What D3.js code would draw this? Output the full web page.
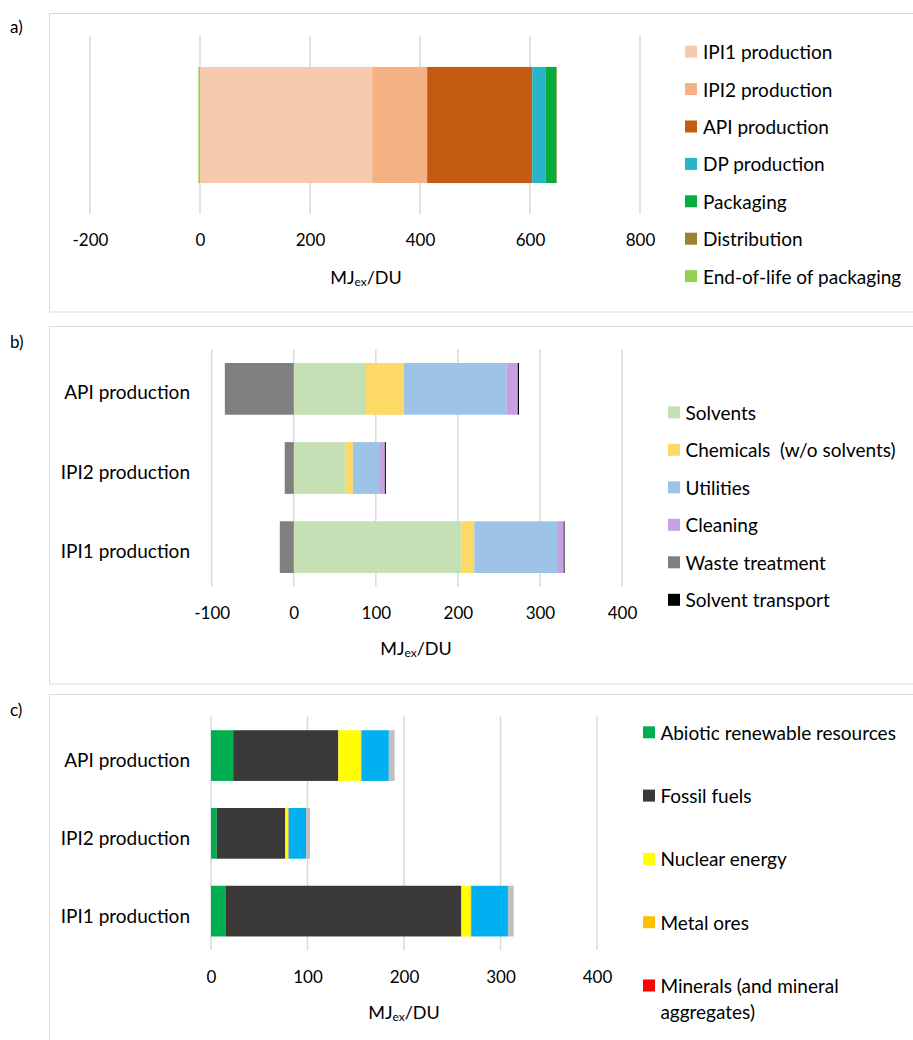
<!DOCTYPE html>
<html>
<head>
<meta charset="utf-8">
<script src="https://cdn.jsdelivr.net/npm/d3@7"></script>
<style>
  html, body { margin: 0; padding: 0; background: #fff; }
  svg text { font-family: Lato, "Open Sans", sans-serif; fill: #000; }
</style>
</head>
<body>
<svg id="chart" width="913" height="1040"></svg>
<script>
// ---- Panel a: life-cycle stages of the drug product ----
const stagesA = ["IPI1 production", "IPI2 production", "API production", "DP production",
                 "Packaging", "Distribution", "End-of-life of packaging"];
const valuesA = [313, 100, 191, 24, 20, 1, -3];
const colorsA = ["#F6CBAD", "#F4B183", "#C55A11", "#27B5C8", "#05AE3B", "#9C8130", "#92D050"];
const ticksA = [-200, 0, 200, 400, 600, 800];

// ---- Panel b: process contributions per production step ----
const stepsB = ["API production", "IPI2 production", "IPI1 production"];
const groupsB = ["Solvents", "Chemicals  (w/o solvents)", "Utilities", "Cleaning",
                 "Waste treatment", "Solvent transport"];
const solventsB  = [88, 63, 204];
const chemicalsB = [46, 9, 16];
const utilitiesB = [125, 32, 102];
const cleaningB  = [14, 7, 7];
const wasteB     = [-84, -11, -17];
const transportB = [1.5, 1.2, 1];
const colorsB = ["#C5E0B4", "#FFD966", "#9DC3E6", "#C5A0E3", "#7F7F7F", "#000000"];
const ticksB = [-100, 0, 100, 200, 300, 400];

// ---- Panel c: resource categories per production step ----
const stepsC = ["API production", "IPI2 production", "IPI1 production"];
const resourcesC = ["Abiotic renewable resources", "Fossil fuels", "Nuclear energy",
                    "Metal ores", "Minerals (and mineral aggregates)", "Water resources", "Land resources"];
const legendC = ["Abiotic renewable resources", "Fossil fuels", "Nuclear energy",
                 "Metal ores", ["Minerals (and mineral", "aggregates)"]];
const abioticC = [23, 6, 15.5];
const fossilC  = [109, 71, 244];
const nuclearC = [23, 3, 9.5];
const metalC   = [1, 0.3, 0.4];
const mineralC = [0.3, 0.2, 0.3];
const waterC   = [28, 18, 38];
const landC    = [6, 4, 6];
const colorsC = ["#00B050", "#3B3838", "#FFFF00", "#FFC000", "#FF0000", "#00B0F0", "#BFBFBF"];
const ticksC = [0, 100, 200, 300, 400];

const svg = d3.select("#chart");
const gridColor = "#D9D9D9";
const labelSize = 19;   // legend and category labels
const tickSize = 17;    // tick labels
const titleSize = 18;   // axis titles

function frame(y0, y1) {
  svg.append("rect").attr("x", 49.5).attr("y", y0).attr("width", 900).attr("height", y1 - y0)
    .attr("fill", "none").attr("stroke", gridColor).attr("stroke-width", 1);
}

function panelLabel(txt, y) {
  svg.append("text").attr("x", 10).attr("y", y).attr("font-size", tickSize).text(txt);
}

function gridAndAxis(x, ticks, yTop, yBot, yTickLabel, titleX, yTitle) {
  const g = svg.append("g");
  g.selectAll("line.grid").data(ticks).join("line")
    .attr("x1", d => x(d)).attr("x2", d => x(d))
    .attr("y1", yTop).attr("y2", yBot)
    .attr("stroke", gridColor).attr("stroke-width", 1.5);
  const axis = d3.axisBottom(x).tickValues(ticks).tickSize(0).tickPadding(0)
    .tickFormat(d => d < 0 ? "-" + Math.abs(d) : String(d));
  const ag = svg.append("g").attr("transform", `translate(0,${yTickLabel})`).call(axis);
  ag.select(".domain").remove();
  ag.selectAll("text").attr("font-size", tickSize).attr("font-family", "Lato, 'Open Sans', sans-serif")
    .attr("fill", "#000").attr("dy", "0.35em").attr("y", 0);
  const t = svg.append("text").attr("x", titleX)
    .attr("y", yTitle).attr("text-anchor", "middle").attr("dominant-baseline", "central")
    .attr("font-size", titleSize);
  t.append("tspan").text("MJ");
  t.append("tspan").attr("font-size", 12).attr("dy", 4).text("ex");
  t.append("tspan").attr("dy", -4).text("/DU");
}

function legend(items, colors, xSw, xTxt, yStart, step) {
  items.forEach((it, i) => {
    const y = yStart + i * step;
    svg.append("rect").attr("x", xSw).attr("y", y - 6).attr("width", 12).attr("height", 12)
      .attr("fill", colors[i]);
    const lines = Array.isArray(it) ? it : [it];
    lines.forEach((ln, j) => {
      svg.append("text").attr("x", xTxt).attr("y", y + j * 26).attr("dominant-baseline", "central")
        .attr("font-size", labelSize).style("white-space", "pre").text(ln);
    });
  });
}

// ================= Panel a =================
frame(13.5, 312);
panelLabel("a)", 33);
{
  const x = d3.scaleLinear().domain([-200, 800]).range([90, 640]);
  const y = d3.scaleBand().domain(["total"]).range([35.7, 214.3]).paddingInner(0.35).paddingOuter(0.175);
  gridAndAxis(x, ticksA, 35.7, 214.3, 240, 366, 277);
  const row = { step: "total" };
  stagesA.forEach((s, i) => row[s] = valuesA[i]);
  const series = d3.stack().keys(stagesA).offset(d3.stackOffsetDiverging)([row]);
  svg.append("g").selectAll("g").data(series).join("g")
    .attr("fill", (d, i) => colorsA[i])
    .selectAll("rect").data(d => d).join("rect")
    .attr("x", d => x(Math.min(d[0], d[1])))
    .attr("width", d => Math.abs(x(d[1]) - x(d[0])))
    .attr("y", d => y(d.data.step)).attr("height", y.bandwidth());
  legend(stagesA, colorsA, 685, 703, 51.7, 37.4);
}

// ================= Panel b =================
frame(326.5, 684);
panelLabel("b)", 348);
{
  const x = d3.scaleLinear().domain([-100, 400]).range([211.7, 622]);
  const y = d3.scaleBand().domain(stepsB).range([349.3, 586.7]).paddingInner(0.346).paddingOuter(0.173);
  gridAndAxis(x, ticksB, 349.3, 586.7, 613.3, 416, 648);
  const cols = [solventsB, chemicalsB, utilitiesB, cleaningB, wasteB, transportB];
  const rows = stepsB.map((s, r) => {
    const o = { step: s };
    groupsB.forEach((g, i) => o[g] = cols[i][r]);
    return o;
  });
  const series = d3.stack().keys(groupsB).offset(d3.stackOffsetDiverging)(rows);
  svg.append("g").selectAll("g").data(series).join("g")
    .attr("fill", (d, i) => colorsB[i])
    .selectAll("rect").data(d => d).join("rect")
    .attr("x", d => x(Math.min(d[0], d[1])))
    .attr("width", d => Math.abs(x(d[1]) - x(d[0])))
    .attr("y", d => y(d.data.step)).attr("height", y.bandwidth());
  svg.append("g").selectAll("text").data(stepsB).join("text")
    .attr("x", 190).attr("y", d => y(d) + y.bandwidth() / 2 + 3)
    .attr("text-anchor", "end").attr("dominant-baseline", "central")
    .attr("font-size", labelSize).text(d => d);
  legend(groupsB, colorsB, 668, 685.5, 412.3, 37.5);
}

// ================= Panel c =================
frame(694.5, 1100);
panelLabel("c)", 716);
{
  const x = d3.scaleLinear().domain([0, 400]).range([211, 597]);
  const y = d3.scaleBand().domain(stepsC).range([716.7, 950]).paddingInner(0.348).paddingOuter(0.174);
  gridAndAxis(x, ticksC, 716.7, 950, 977.3, 404, 1011.7);
  const cols = [abioticC, fossilC, nuclearC, metalC, mineralC, waterC, landC];
  const rows = stepsC.map((s, r) => {
    const o = { step: s };
    resourcesC.forEach((g, i) => o[g] = cols[i][r]);
    return o;
  });
  const series = d3.stack().keys(resourcesC)(rows);
  svg.append("g").selectAll("g").data(series).join("g")
    .attr("fill", (d, i) => colorsC[i])
    .selectAll("rect").data(d => d).join("rect")
    .attr("x", d => x(d[0]))
    .attr("width", d => x(d[1]) - x(d[0]))
    .attr("y", d => y(d.data.step)).attr("height", y.bandwidth());
  svg.append("g").selectAll("text").data(stepsC).join("text")
    .attr("x", 190).attr("y", d => y(d) + y.bandwidth() / 2 + 4)
    .attr("text-anchor", "end").attr("dominant-baseline", "central")
    .attr("font-size", labelSize).text(d => d);
  legend(legendC, colorsC.slice(0, 5), 643, 660.4, 732.3, 63.3);
}
</script>
</body>
</html>
